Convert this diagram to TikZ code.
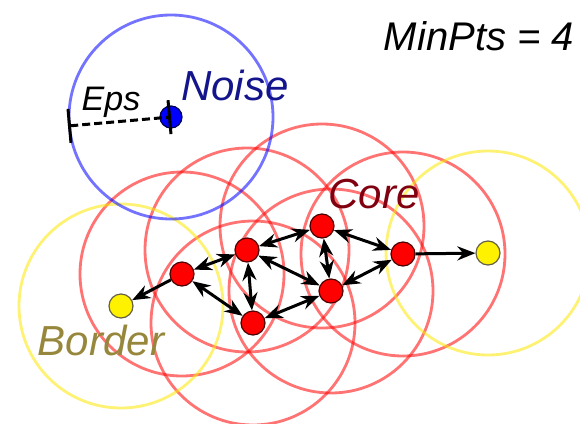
\documentclass[tikz,border=0pt]{standalone}
\usepackage{fontspec}
\setmainfont{Liberation Sans}
\usetikzlibrary{arrows.meta, backgrounds}

\definecolor{noiseblue}{RGB}{20,20,140}
\definecolor{coremaroon}{RGB}{128,0,16}
\definecolor{borderolive}{RGB}{150,135,60}

\begin{document}
\begin{tikzpicture}[
    x=1pt, y=-1pt,
    point/.style={circle, draw, line width=1.2pt, minimum size=24pt, inner sep=0pt},
    core/.style={point, fill=red, draw=black!70!red},
    border/.style={point, fill=yellow, draw=black!70!yellow},
    noise/.style={point, fill=blue, draw=black!70!blue, minimum size=22pt},
    reach/.style={line width=2.8pt, draw opacity=0.55},
    link/.style={line width=3pt, -{Stealth[length=18pt, width=14pt]}},
    mutual/.style={line width=3pt, {Stealth[length=18pt, width=14pt]}-{Stealth[length=18pt, width=14pt]}},
    txt/.style={anchor=base, inner sep=0pt, font=\fontsize{42}{48}\selectfont\itshape}
]
\useasboundingbox (0,0) rectangle (580,423);

% Noise point
\node[noise] (noise) at (171,117) {};

% Core points
\node[core] (a) at (182,274) {};
\node[core] (b) at (247,250) {};
\node[core] (c) at (322,226) {};
\node[core] (d) at (253,323) {};
\node[core] (e) at (331,291) {};
\node[core] (f) at (403,254) {};

% Border points
\node[border] (g) at (121,306) {};
\node[border] (h) at (488,253) {};

% Eps neighbourhoods
\begin{scope}[on background layer]
\foreach \n in {a,b,c,d,e,f}
    \draw[reach, red] (\n) circle[radius=102pt];
\foreach \n in {g,h}
    \draw[reach, yellow!90!orange] (\n) circle[radius=102pt];
\draw[reach, blue] (noise) circle[radius=102pt];
\end{scope}

% Eps radius
\coordinate (epsend) at (68,126);
\draw[line width=3pt, dash pattern=on 8pt off 4pt,
      {Bar[width=34pt]}-{Bar[width=34pt]}] (epsend) -- (noise.center);

% Edges
\draw[link] (a) -- (g);
\draw[link] (f) -- (h);
\draw[mutual] (a) -- (b);
\draw[mutual] (a) -- (d);
\draw[mutual] (b) -- (c);
\draw[mutual] (b) -- (d);
\draw[mutual] (b) -- (e);
\draw[mutual] (c) -- (e);
\draw[mutual] (c) -- (f);
\draw[mutual] (d) -- (e);
\draw[mutual] (e) -- (f);

% Labels
\node[txt, font=\fontsize{40}{46}\selectfont\itshape] (minpts) at (479,50) {MinPts = 4};
\node[txt, text=noiseblue] (noiselabel) at (235,100) {Noise};
\node[txt, font=\fontsize{34}{40}\selectfont\itshape] (epslabel) at (111,110) {Eps};
\node[txt, text=coremaroon] (corelabel) at (374,208) {Core};
\node[txt, text=borderolive] (borderlabel) at (101,355) {Border};

\end{tikzpicture}
\end{document}
